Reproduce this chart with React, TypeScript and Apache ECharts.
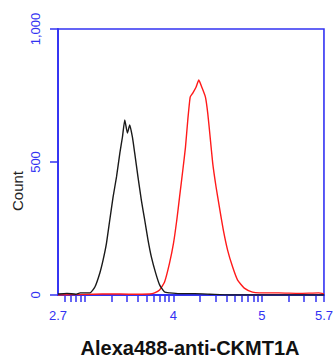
import React, { useEffect, useRef } from "react";
import * as echarts from "echarts";

// x positions are log10(fluorescence intensity)
const isotypeLog = [2.70, 2.80, 2.90, 2.95, 3.06, 3.116, 3.172, 3.209, 3.247, 3.284, 3.321, 3.36, 3.398, 3.427, 3.453, 3.483, 3.509, 3.539, 3.565, 3.602, 3.64, 3.678, 3.715, 3.753, 3.801, 3.846, 3.902, 3.958, 4.07, 4.24, 4.41, 4.63, 5.0, 5.7];
const isotypeCount = [4, 6, 3, 8, 8, 30, 83, 132, 195, 282, 368, 444, 534, 594, 658, 609, 639, 594, 534, 444, 357, 282, 207, 143, 83, 38, 11, 8, 5, 5, 3, 0, 0, 0];

const ckmtLog = [2.70, 3.10, 3.30, 3.50, 3.734, 3.79, 3.846, 3.902, 3.958, 4.003, 4.04, 4.071, 4.108, 4.138, 4.164, 4.191, 4.22, 4.258, 4.288, 4.326, 4.363, 4.389, 4.416, 4.445, 4.483, 4.52, 4.565, 4.613, 4.67, 4.726, 4.801, 4.894, 4.97, 5.19, 5.42, 5.64, 5.7];
const ckmtCount = [0, 3, 4, 3, 4, 8, 19, 49, 120, 195, 282, 368, 470, 556, 658, 744, 759, 782, 808, 778, 744, 684, 594, 496, 406, 331, 244, 169, 105, 56, 26, 11, 8, 8, 6, 8, 4];

const xTickIntensities = [600, 700, 800, 900, 1000, 2000, 3000, 4000, 5000, 6000, 7000, 8000, 9000, 10000, 20000, 30000, 40000, 50000, 60000, 70000, 80000, 90000, 100000, 200000, 300000, 400000, 500000];
const xLabelValues = [2.7, 4, 5, 5.7];
const xLabelTexts = ["2.7", "4", "5", "5.7"];
const yTicks = [0, 500, 1000];
const yLabelTexts = ["0", "500", "1,000"];

const BLUE = "#3232f2";

export default function App() {
  const ref = useRef<HTMLDivElement>(null);
  useEffect(() => {
    if (!ref.current) return;
    const chart = echarts.init(ref.current, null, { renderer: "svg" });
    const tickLogs = xTickIntensities.map((v) => Math.log10(v));
    chart.setOption({
      animation: false,
      backgroundColor: "#ffffff",
      grid: {
        left: 58,
        top: 29,
        right: 11,
        bottom: 64,
        show: true,
        borderColor: BLUE,
        borderWidth: 1.6,
        backgroundColor: "transparent",
      },
      xAxis: {
        type: "value",
        min: 2.7,
        max: 5.7,
        axisLine: { show: true, lineStyle: { color: BLUE, width: 1.8 } },
        splitLine: { show: false },
        axisTick: {
          show: true,
          length: 7,
          customValues: tickLogs,
          lineStyle: { color: BLUE, width: 1.5 },
        },
        axisLabel: {
          show: true,
          customValues: xLabelValues,
          margin: 14,
          color: BLUE,
          fontSize: 13,
          fontFamily: "Liberation Sans, Arial, sans-serif",
          formatter: (v: number) => {
            const i = xLabelValues.findIndex((x) => Math.abs(x - v) < 1e-6);
            return i >= 0 ? xLabelTexts[i] : "";
          },
        },
      },
      yAxis: {
        type: "value",
        min: 0,
        max: 1000,
        interval: 500,
        axisLine: { show: true, lineStyle: { color: BLUE, width: 1.8 } },
        splitLine: { show: false },
        axisTick: { show: true, length: 8, lineStyle: { color: BLUE, width: 1.5 } },
        axisLabel: {
          rotate: 90,
          margin: 16,
          color: BLUE,
          fontSize: 13,
          fontFamily: "Liberation Sans, Arial, sans-serif",
          formatter: (v: number) => {
            const i = yTicks.indexOf(v);
            return i >= 0 ? yLabelTexts[i] : "";
          },
        },
      },
      graphic: [
        {
          type: "text",
          x: 17,
          y: 191,
          rotation: Math.PI / 2,
          style: {
            text: "Count",
            fill: "#222222",
            font: "15px 'Liberation Sans', Arial, sans-serif",
            textAlign: "center",
            textVerticalAlign: "middle",
          },
        },
        {
          type: "text",
          x: 190,
          y: 348,
          style: {
            text: "Alexa488-anti-CKMT1A",
            fill: "#111111",
            font: "bold 20px 'Liberation Sans', Arial, sans-serif",
            textAlign: "center",
            textVerticalAlign: "middle",
          },
        },
      ],
      series: [
        {
          type: "line",
          data: isotypeLog.map((x, i) => [x, isotypeCount[i]]),
          showSymbol: false,
          symbol: "none",
          smooth: 0.15,
          lineStyle: { color: "#1a1a1a", width: 1.4 },
          z: 3,
        },
        {
          type: "line",
          data: ckmtLog.map((x, i) => [x, ckmtCount[i]]),
          showSymbol: false,
          symbol: "none",
          smooth: 0.15,
          lineStyle: { color: "#ff1a1a", width: 1.4 },
          z: 2,
        },
      ],
    });
    return () => chart.dispose();
  }, []);
  return <div ref={ref} style={{ width: 336, height: 359, position: "absolute", left: 0, top: 0 }} />;
}
